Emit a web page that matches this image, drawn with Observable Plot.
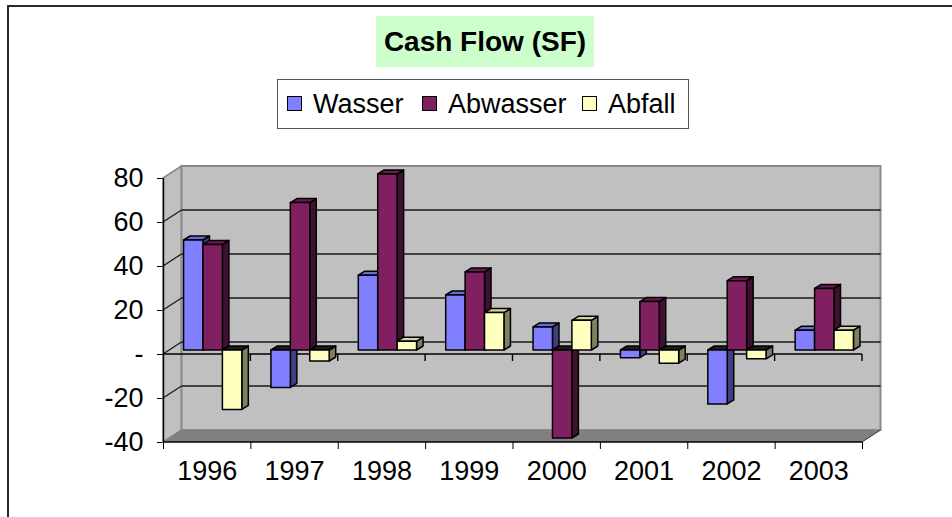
<!DOCTYPE html>
<html><head><meta charset="utf-8">
<script src="https://cdn.jsdelivr.net/npm/d3@7"></script>
<script src="https://cdn.jsdelivr.net/npm/@observablehq/plot@0.6"></script>
<style>
html,body{margin:0;padding:0;background:#fff;}
#wrap{position:relative;width:952px;height:517px;overflow:hidden;font-family:"Liberation Sans",Arial,sans-serif;}
#wrap svg{position:absolute;left:0;top:0;}
#frame{position:absolute;left:7px;top:5px;width:1000px;height:600px;border-left:2px solid #2a2a2a;border-top:2px solid #2a2a2a;}
#title{position:absolute;left:376px;top:16px;width:218px;height:51px;background:#CCFFCC;font-weight:bold;font-size:28px;line-height:51px;text-align:center;color:#000;}
#legend{position:absolute;left:277px;top:79px;width:410px;height:48px;border:1px solid #555;background:#fff;}
.item{position:absolute;top:0;height:48px;line-height:48px;font-size:27px;color:#000;white-space:nowrap;}
.sw{display:inline-block;width:13px;height:13px;border:1.5px solid #000;vertical-align:middle;margin-right:11px;position:relative;top:-2px;}
</style></head>
<body><div id="wrap"></div>
<script>
const years = ["1996","1997","1998","1999","2000","2001","2002","2003"];
const seriesNames = ["Wasser","Abwasser","Abfall"];
const wasser   = [50, -17, 34, 25, 10.5, -3.5, -24.5, 9];
const abwasser = [48, 67, 80, 35.5, -40, 22, 31.5, 28];
const abfall   = [-27, -5, 4, 17, 13.5, -6, -4, 9];
const yTicks = [-40, -20, 0, 20, 40, 60, 80];

const palette = {
  Wasser:   {front:"#8080FF", top:"#6B6BD6", side:"#404080"},
  Abwasser: {front:"#802060", top:"#6A1A50", side:"#401030"},
  Abfall:   {front:"#FFFFC0", top:"#D4D4A0", side:"#808060"}
};

const seriesValues = [wasser, abwasser, abfall];
const rows = years.flatMap((year, i) => seriesNames.map((s, j) => ({year, i, series: s, j, value: seriesValues[j][i]})));

const WALL = {dx: 18.5, dy: -12};
const PLANE = {dx: 6, dy: -4};
const DEPTH = {dx: 6.5, dy: -4};
const [yMin, yMax] = d3.extent(yTicks);
const n = years.length;

function poly(pts){ return "M" + pts.map(p => p.join(",")).join("L") + "Z"; }

function wallsMark(index, scales) {
  const x = scales.x, y = scales.y;
  const g = d3.create("svg:g");
  const x0 = x(0), x1 = x(n), yT = y(yMax), yB = y(yMin);
  g.append("path").attr("d", poly([[x0,yT],[x0+WALL.dx,yT+WALL.dy],[x0+WALL.dx,yB+WALL.dy],[x0,yB]]))
    .attr("fill","#C0C0C0").attr("stroke","#8a8a8a").attr("stroke-width",1.5);
  g.append("path").attr("d", poly([[x0+WALL.dx,yT+WALL.dy],[x1+WALL.dx,yT+WALL.dy],[x1+WALL.dx,yB+WALL.dy],[x0+WALL.dx,yB+WALL.dy]]))
    .attr("fill","#C0C0C0").attr("stroke","#8a8a8a").attr("stroke-width",2);
  g.append("path").attr("d", poly([[x0,yB],[x0+WALL.dx,yB+WALL.dy],[x1+WALL.dx,yB+WALL.dy],[x1,yB]]))
    .attr("fill","#808080").attr("stroke","none");
  g.append("line").attr("x1",x1).attr("y1",yB).attr("x2",x1+WALL.dx).attr("y2",yB+WALL.dy).attr("stroke","#333").attr("stroke-width",1);
  for (const v of yTicks) {
    if (v <= yMin || v >= yMax) continue;
    g.append("line").attr("x1",x0+WALL.dx).attr("x2",x1+WALL.dx).attr("y1",y(v)+WALL.dy).attr("y2",y(v)+WALL.dy).attr("stroke","#1a1a1a").attr("stroke-width",1.3);
    g.append("line").attr("x1",x0).attr("x2",x0+WALL.dx).attr("y1",y(v)).attr("y2",y(v)+WALL.dy).attr("stroke","#1a1a1a").attr("stroke-width",1.3);
  }
  return g.node();
}

function frontAxesMark(index, scales) {
  const x = scales.x, y = scales.y;
  const g = d3.create("svg:g").attr("stroke","#000").attr("stroke-width",1.4);
  const y0 = y(0), yB = y(yMin);
  g.append("line").attr("x1",x(0)).attr("x2",x(n)).attr("y1",y0).attr("y2",y0);
  g.append("line").attr("x1",x(0)).attr("x2",x(n)).attr("y1",yB).attr("y2",yB);
  for (let k = 1; k <= n; k++) {
    g.append("line").attr("x1",x(k)).attr("x2",x(k)).attr("y1",y0).attr("y2",y0+7);
  }
  return g.node();
}

function barsMark(index, scales) {
  const x = scales.x, y = scales.y;
  const g = d3.create("svg:g").attr("stroke","#000").attr("stroke-width",1.5).attr("stroke-linejoin","round");
  const bw = 1 / 4.5;
  for (const r of rows) {
    const a = r.i + 0.75 * bw + r.j * bw;
    const X0 = x(a) + PLANE.dx, X1 = x(a + bw) + PLANE.dx;
    const Yt = y(Math.max(r.value, 0)) + PLANE.dy, Yb = y(Math.min(r.value, 0)) + PLANE.dy;
    const c = palette[r.series];
    g.append("path").attr("d", poly([[X1,Yt],[X1+DEPTH.dx,Yt+DEPTH.dy],[X1+DEPTH.dx,Yb+DEPTH.dy],[X1,Yb]])).attr("fill", c.side);
    g.append("path").attr("d", poly([[X0,Yt],[X0+DEPTH.dx,Yt+DEPTH.dy],[X1+DEPTH.dx,Yt+DEPTH.dy],[X1,Yt]])).attr("fill", r.value < 0 ? "#1c1c1c" : c.top);
    g.append("rect").attr("x", X0).attr("y", Yt).attr("width", X1 - X0).attr("height", Yb - Yt).attr("fill", c.front);
  }
  return g.node();
}

const plot = Plot.plot({
  width: 952, height: 517,
  marginLeft: 163, marginRight: 90, marginTop: 178, marginBottom: 75,
  style: {background: "transparent", fontFamily: "'Liberation Sans', Arial, sans-serif", fontSize: "27px", color: "#000"},
  x: {type: "linear", domain: [0, n], ticks: d3.range(0, n + 1), tickFormat: () => "", tickSize: 7, label: null},
  y: {domain: [yMin, yMax], ticks: yTicks, tickSize: 6, tickPadding: 14, tickFormat: d => d === 0 ? "-" : String(d), label: null},
  marks: [
    wallsMark,
    frontAxesMark,
    barsMark,
    Plot.ruleX([0], {y1: yMin, y2: yMax, stroke: "#000", strokeWidth: 1.4}),
    Plot.text(years, {x: (d, i) => i + 0.5, frameAnchor: "bottom", dy: 37, fontSize: 27, fill: "#000"})
  ]
});

const wrap = document.getElementById("wrap");
wrap.appendChild(plot);
const frame = document.createElement("div"); frame.id = "frame"; wrap.appendChild(frame);
const title = document.createElement("div"); title.id = "title"; title.textContent = "Cash Flow (SF)"; wrap.appendChild(title);
const legend = document.createElement("div"); legend.id = "legend"; wrap.appendChild(legend);
const legendLeft = [9, 144, 304];
seriesNames.forEach((s, j) => {
  const it = document.createElement("div"); it.className = "item"; it.style.left = legendLeft[j] + "px";
  const sw = document.createElement("span"); sw.className = "sw"; sw.style.background = palette[s].front;
  it.appendChild(sw); it.appendChild(document.createTextNode(s));
  legend.appendChild(it);
});
</script></body></html>
